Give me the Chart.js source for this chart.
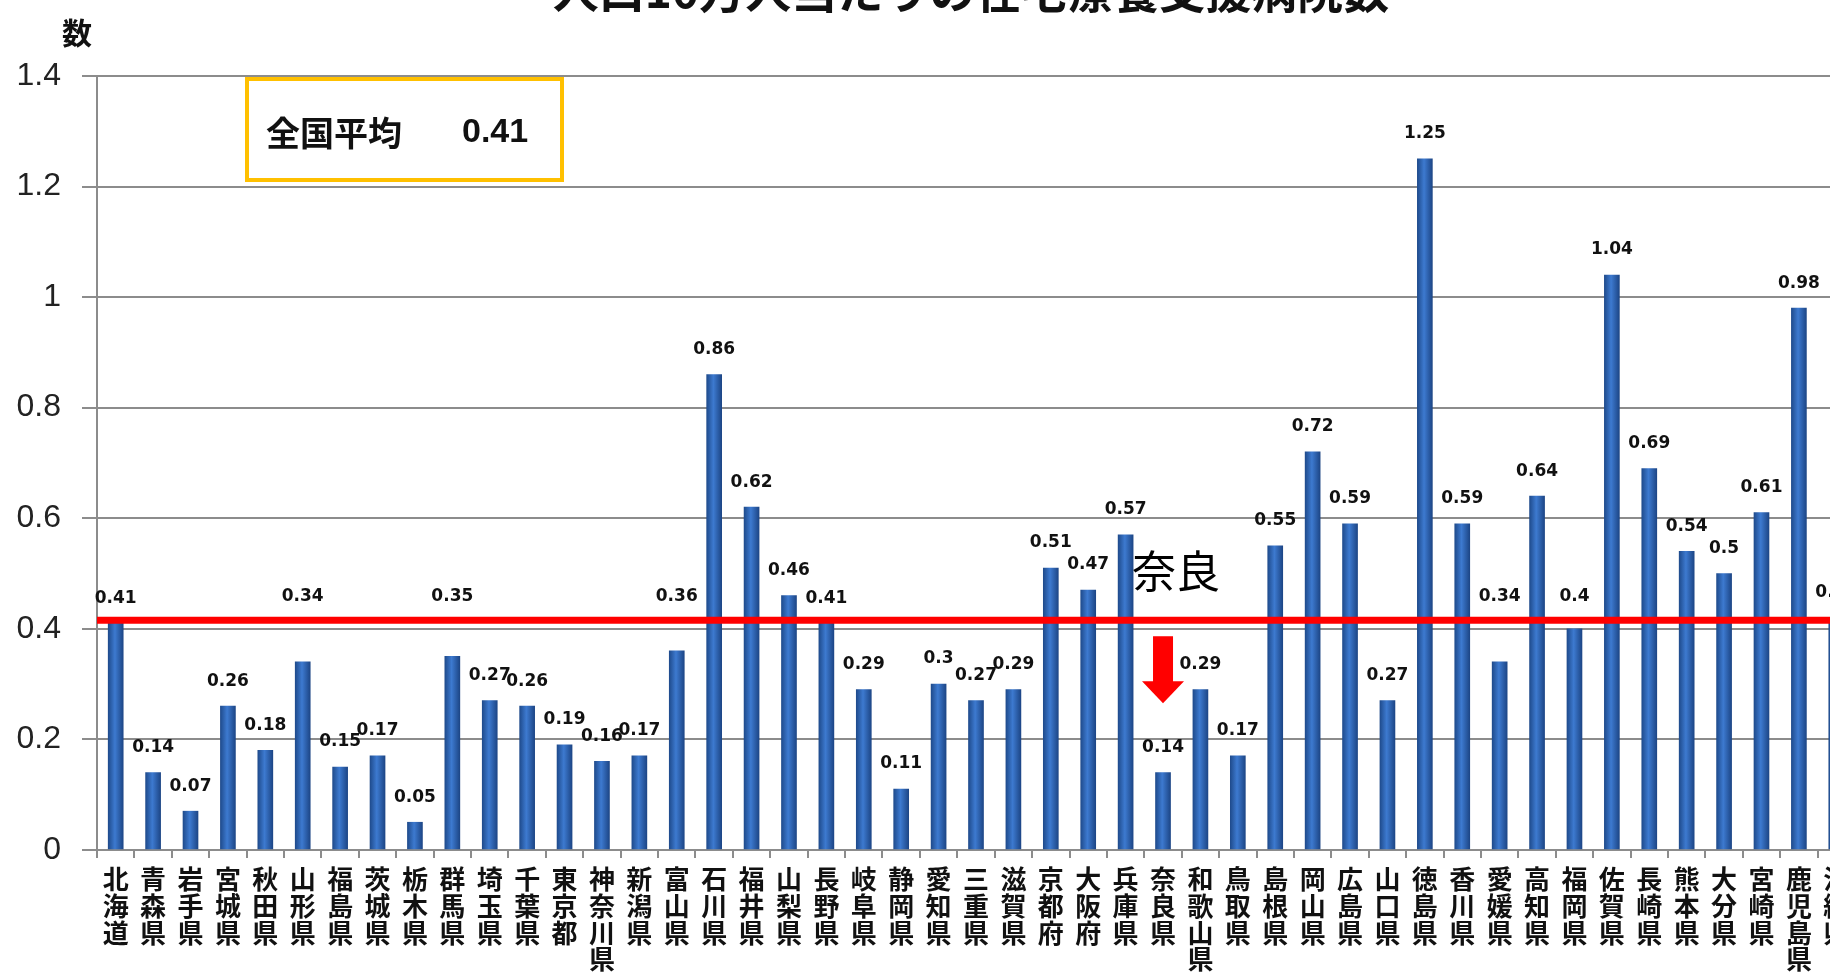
<!DOCTYPE html>
<html lang="ja">
<head>
<meta charset="utf-8">
<title>人口10万人当たりの在宅療養支援病院数</title>
<script src="https://cdn.jsdelivr.net/npm/chart.js@4.4.1/dist/chart.umd.min.js"></script>
<style>
  html, body { margin: 0; padding: 0; background: #fff; overflow: hidden; }
  #wrap { position: relative; width: 1830px; height: 972px; overflow: hidden; }
  canvas { position: absolute; left: 0; top: 0; }
</style>
</head>
<body>
<div id="wrap"><canvas id="chart" width="1870" height="981"></canvas></div>
<script>
// --- data ---
const titleText = '人口10万人当たりの在宅療養支援病院数';
const yAxisLabel = '数';
const categories = [
  '北海道', '青森県', '岩手県', '宮城県', '秋田県', '山形県', '福島県', '茨城県',
  '栃木県', '群馬県', '埼玉県', '千葉県', '東京都', '神奈川県', '新潟県', '富山県',
  '石川県', '福井県', '山梨県', '長野県', '岐阜県', '静岡県', '愛知県', '三重県',
  '滋賀県', '京都府', '大阪府', '兵庫県', '奈良県', '和歌山県', '鳥取県', '島根県',
  '岡山県', '広島県', '山口県', '徳島県', '香川県', '愛媛県', '高知県', '福岡県',
  '佐賀県', '長崎県', '熊本県', '大分県', '宮崎県', '鹿児島県', '沖縄県'
];
const values = [
  0.41, 0.14, 0.07, 0.26, 0.18, 0.34, 0.15, 0.17,
  0.05, 0.35, 0.27, 0.26, 0.19, 0.16, 0.17, 0.36,
  0.86, 0.62, 0.46, 0.41, 0.29, 0.11, 0.3, 0.27,
  0.29, 0.51, 0.47, 0.57, 0.14, 0.29, 0.17, 0.55,
  0.72, 0.59, 0.27, 1.25, 0.59, 0.34, 0.64, 0.4,
  1.04, 0.69, 0.54, 0.5, 0.61, 0.98, 0.42
];
const yTickLabels = ['0', '0.2', '0.4', '0.6', '0.8', '1', '1.2', '1.4'];
const avgValue = 0.41;
const avgCaption = '全国平均';
const highlightName = '奈良県';
const highlightText = '奈良';

const GRID = '#8c8c8c';
const hiIndex = categories.indexOf(highlightName);

// bars get a left-to-right shading like the original cylinders
function barFill(c) {
  const chart = c.chart;
  const xs = chart.scales.x;
  if (!chart.chartArea || !xs) return '#2f65b5';
  const cx = xs.getPixelForValue(c.dataIndex);
  const g = chart.ctx.createLinearGradient(cx - 8, 0, cx + 8, 0);
  g.addColorStop(0, '#1d4888');
  g.addColorStop(0.45, '#3d7ad0');
  g.addColorStop(1, '#1b4382');
  return g;
}

// average line, value labels, notes
const overlay = {
  id: 'overlay',
  afterDatasetsDraw(chart) {
    const { ctx, chartArea: a } = chart;
    const x = chart.scales.x, y = chart.scales.y;
    const ly = y.getPixelForValue(avgValue);
    ctx.save();

    ctx.strokeStyle = '#ff0000';
    ctx.lineWidth = 7;
    ctx.beginPath();
    ctx.moveTo(a.left, ly - 3);
    ctx.lineTo(a.right, ly - 3);
    ctx.stroke();

    ctx.font = 'bold 17px "DejaVu Sans", sans-serif';
    ctx.fillStyle = '#111';
    ctx.textAlign = 'center';
    ctx.textBaseline = 'middle';
    values.forEach((v, i) => {
      let cy = y.getPixelForValue(v) - 25;
      if (cy > ly - 20 && cy < ly + 30) cy = ly - 27; // keep clear of the red line
      ctx.fillText(String(v), x.getPixelForValue(i), cy);
    });

    // 奈良 note + arrow
    const bx = x.getPixelForValue(hiIndex);
    ctx.textAlign = 'left';
    ctx.font = '44px "Noto Sans CJK JP", sans-serif';
    ctx.fillStyle = '#000';
    ctx.fillText(highlightText, bx - 31, ly - 52);
    ctx.fillStyle = '#ff0000';
    ctx.fillRect(bx - 10, ly + 13, 20, 46);
    ctx.beginPath();
    ctx.moveTo(bx - 21, ly + 58);
    ctx.lineTo(bx + 21, ly + 58);
    ctx.lineTo(bx, ly + 80);
    ctx.closePath();
    ctx.fill();

    // 全国平均 box
    ctx.strokeStyle = '#ffc000';
    ctx.lineWidth = 4;
    ctx.strokeRect(a.left + 150, a.top + 3, 315, 101);
    ctx.fillStyle = '#111';
    ctx.font = 'bold 34px "Noto Sans CJK JP", sans-serif';
    ctx.fillText(avgCaption, a.left + 169, a.top + 57);
    ctx.font = 'bold 34px "Liberation Sans Narrow", "Liberation Sans", sans-serif';
    ctx.fillText(String(avgValue), a.left + 365, a.top + 57);

    // title (cut off at the top) and unit
    ctx.textAlign = 'center';
    ctx.textBaseline = 'alphabetic';
    ctx.font = 'bold 46px "Noto Sans CJK JP", sans-serif';
    ctx.fillText(titleText, (a.left + a.right) / 2 - 5, 8);
    ctx.textBaseline = 'middle';
    ctx.font = 'bold 30px "Noto Sans CJK JP", sans-serif';
    ctx.fillText(yAxisLabel, 77, 33);
    ctx.restore();
  }
};

new Chart(document.getElementById('chart'), {
  type: 'bar',
  data: {
    labels: categories.map(s => s.split('')),
    datasets: [{
      data: values,
      backgroundColor: barFill,
      borderWidth: 0,
      barThickness: 15
    }]
  },
  options: {
    responsive: false,
    animation: false,
    layout: { padding: { top: 76, left: 15, right: 15, bottom: 0 } },
    plugins: { legend: { display: false }, tooltip: { enabled: false } },
    scales: {
      x: {
        grid: { display: true, drawOnChartArea: false, color: GRID, lineWidth: 2, tickLength: 8, offset: true },
        border: { display: true, color: GRID, width: 2 },
        ticks: {
          autoSkip: false, maxRotation: 0, minRotation: 0, padding: 8,
          color: '#111',
          font: { family: '"Noto Sans CJK JP", sans-serif', size: 26, weight: 'bold', lineHeight: 1.03 }
        }
      },
      y: {
        min: 0, max: 1.4,
        afterFit: s => { s.width = 82; },
        grid: { color: GRID, lineWidth: 2, tickLength: 15 },
        border: { display: true, color: GRID, width: 2 },
        ticks: {
          stepSize: 0.2, padding: 21, color: '#222',
          font: { family: '"Liberation Sans", Arial, sans-serif', size: 32 },
          callback: (v, i) => yTickLabels[i]
        }
      }
    }
  },
  plugins: [overlay]
});
</script>
</body>
</html>
